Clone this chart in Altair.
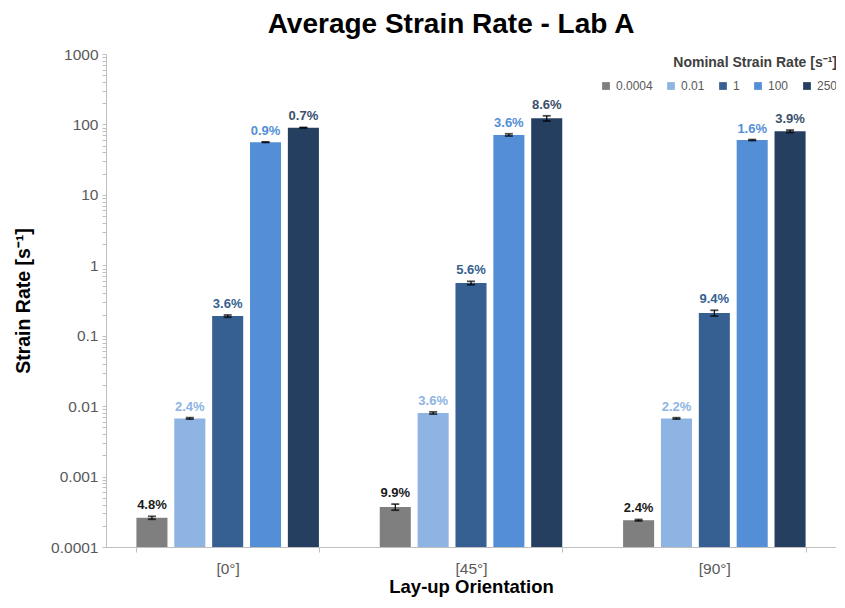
import altair as alt
import pandas as pd

orientations = ["[0°]", "[45°]", "[90°]"]
rates = ["0.0004", "0.01", "1", "100", "250"]

# mean strain rate per nominal rate, for each lay-up orientation
vals_0 = [0.00026, 0.0067, 0.19, 56, 90]
vals_45 = [0.00037, 0.0080, 0.56, 71, 122]
vals_90 = [0.00024, 0.0067, 0.21, 60, 80]

# coefficient of variation [%] (labels above bars)
cv_0 = [4.8, 2.4, 3.6, 0.9, 0.7]
cv_45 = [9.9, 3.6, 5.6, 3.6, 8.6]
cv_90 = [2.4, 2.2, 9.4, 1.6, 3.9]

bar_colors = ["#7f7f7f", "#8db4e3", "#365f92", "#548ed6", "#243f60"]
label_colors = ["#1a1a1a", "#8db4e3", "#365f92", "#548ed6", "#3b4f6b"]

rows = []
for o, vals, cvs in zip(orientations, [vals_0, vals_45, vals_90], [cv_0, cv_45, cv_90]):
    for r, v, c in zip(rates, vals, cvs):
        rows.append({
            "orientation": o, "rate": r, "value": v, "cv": c,
            "lo": v * (1 - c / 100), "hi": v * (1 + c / 100),
            "label": f"{c:.1f}%",
        })
df = pd.DataFrame(rows)

FONT = "Liberation Sans"
W, H = 730, 493

tick_vals = []
for e in range(-4, 3):
    for m in range(1, 10):
        tick_vals.append(m * 10 ** e)
tick_vals.append(1000)

major = ["0.0001", "0.001", "0.01", "0.1", "1", "10", "100", "1000"]
label_expr = "indexof(" + str(major).replace(" ", "") + ", datum.label) >= 0 ? datum.label : ''"

yscale = alt.Scale(type="log", domain=[0.0001, 1000])

base = alt.Chart(df).encode(
    x=alt.X(
        "orientation:N", sort=orientations,
        scale=alt.Scale(paddingInner=0.25, paddingOuter=0.125),
        axis=alt.Axis(
            title="Lay-up Orientation", labelAngle=0, labelFontSize=15.5,
            labelColor="#595959", labelPadding=9, titleFontSize=18.5,
            titleFontWeight="bold", titleColor="#000000", titlePadding=1,
            domainColor="#bfbfbf", tickColor="#bfbfbf", tickBand="extent",
            tickSize=5,
        ),
    ),
    xOffset=alt.XOffset("rate:N", sort=rates,
                        scale=alt.Scale(paddingInner=0.18, paddingOuter=0)),
)

bars = base.mark_bar().encode(
    y=alt.Y(
        "value:Q", scale=yscale,
        axis=alt.Axis(
            title="Strain Rate [s⁻¹]", values=tick_vals, format="~g",
            labelExpr=label_expr, labelOverlap=False, labelFontSize=15.5,
            labelColor="#595959", grid=False, tickSize=4,
            domainColor="#bfbfbf", tickColor="#bfbfbf", titleFontSize=19.5,
            titleFontWeight="bold", titleColor="#000000", titlePadding=17,
            labelPadding=4,
        ),
    ),
    y2=alt.datum(0.0001),
    color=alt.Color(
        "rate:N", sort=rates,
        scale=alt.Scale(domain=rates, range=bar_colors),
        legend=alt.Legend(
            title="Nominal Strain Rate [s⁻¹]", orient="none", direction="horizontal",
            legendX=494, legendY=2, titleAnchor="end", titleFontSize=14,
            titleFontWeight="bold", titleColor="#404040", titlePadding=10,
            labelFontSize=12, labelColor="#595959", symbolType="square",
            symbolSize=60, columnPadding=12, labelOffset=4,
        ),
    ),
)

rules = base.mark_rule(color="#000000", strokeWidth=1.2).encode(
    y=alt.Y("lo:Q", scale=yscale), y2="hi:Q"
)
cap_lo = base.mark_tick(color="#000000", thickness=1.8, size=8).encode(
    y=alt.Y("lo:Q", scale=yscale)
)
cap_hi = base.mark_tick(color="#000000", thickness=1.8, size=8).encode(
    y=alt.Y("hi:Q", scale=yscale)
)

labels = base.mark_text(
    baseline="bottom", dy=-4, fontSize=13, fontWeight="bold", font=FONT
).encode(
    y=alt.Y("hi:Q", scale=yscale),
    text="label:N",
    color=alt.Color("rate:N", sort=rates,
                    scale=alt.Scale(domain=rates, range=label_colors),
                    legend=None),
)

chart = (
    alt.layer(bars, rules, cap_lo, cap_hi, labels)
    .resolve_scale(color="independent")
    .properties(
        width=W, height=H,
        title=alt.TitleParams(
            "Average Strain Rate - Lab A", fontSize=28, fontWeight="bold",
            font=FONT, color="#000000", anchor="middle", dx=-20, offset=8,
        ),
        autosize=alt.AutoSizeParams(type="none"),
        padding={"left": 98, "top": 46, "right": 0, "bottom": 53},
    )
    .configure(font=FONT)
    .configure_view(stroke=None)
)

chart.save("out.html", embed_options={"renderer": "svg", "actions": False})
